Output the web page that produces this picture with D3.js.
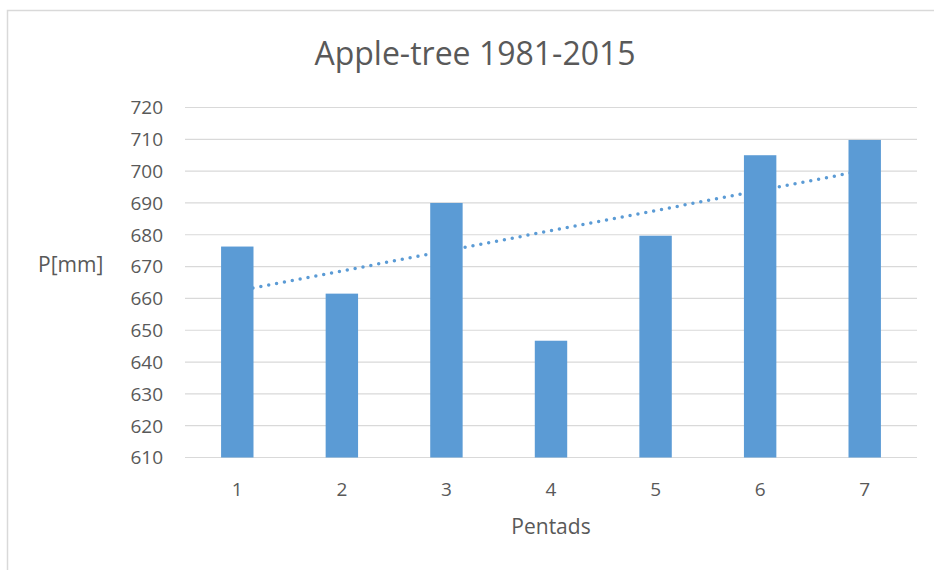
<!DOCTYPE html>
<html>
<head>
<meta charset="utf-8">
<script src="https://cdn.jsdelivr.net/npm/d3@7"></script>
<style>
  body { margin: 0; background: #fff; overflow: hidden; }
  svg { display: block; }
  text { font-family: "Open Sans", sans-serif; fill: #595959; }
</style>
</head>
<body>
<script>
const wid = 934, hei = 570;
const pentads = ['1', '2', '3', '4', '5', '6', '7'];
const precip = [676.3, 661.5, 690, 646.7, 679.7, 705, 709.8];
const yTicks = [610, 620, 630, 640, 650, 660, 670, 680, 690, 700, 710, 720];

const plotL = 185, plotR = 917, plotT = 107.5, plotB = 457.5;

let svg = d3.select('body').append('svg')
    .attr('width', wid)
    .attr('height', hei);

// chart frame
svg.append('rect')
    .attr('x', 7.5).attr('y', 10.5)
    .attr('width', 940).attr('height', 580)
    .attr('fill', '#fff')
    .attr('stroke', '#d9d9d9')
    .attr('stroke-width', 1.5);

let x = d3.scaleBand().domain(pentads).range([plotL, plotR]).paddingInner(0.69).paddingOuter(0.345);
let y = d3.scaleLinear().domain([610, 720]).range([plotB, plotT]);

// gridlines
svg.append('g').selectAll('line')
    .data(yTicks)
    .enter().append('line')
    .attr('x1', plotL).attr('x2', plotR)
    .attr('y1', d => y(d)).attr('y2', d => y(d))
    .attr('stroke', '#d9d9d9')
    .attr('stroke-width', 1.2);

// y tick labels
svg.append('g').selectAll('text')
    .data(yTicks)
    .enter().append('text')
    .attr('x', 163)
    .attr('y', d => y(d))
    .attr('dy', '0.36em')
    .attr('text-anchor', 'end')
    .style('font-size', '19px')
    .text(d => d);

// linear trendline (least squares over the bars)
let xs = pentads.map(Number);
let mx = d3.mean(xs), my = d3.mean(precip);
let slope = d3.sum(xs, (v, i) => (v - mx) * (precip[i] - my)) / d3.sum(xs, v => (v - mx) * (v - mx));
let icpt = my - slope * mx;
let cx = p => x(p) + x.bandwidth() / 2;

svg.append('line')
    .attr('x1', cx(pentads[0]))
    .attr('y1', y(icpt + slope * xs[0]))
    .attr('x2', cx(pentads[6]))
    .attr('y2', y(icpt + slope * xs[6]))
    .attr('stroke', '#5b9bd5')
    .attr('stroke-width', 3.5)
    .attr('stroke-linecap', 'round')
    .attr('stroke-dasharray', '0 8');

// bars
svg.append('g').selectAll('rect')
    .data(precip)
    .enter().append('rect')
    .attr('x', (d, i) => x(pentads[i]))
    .attr('y', d => y(d))
    .attr('width', x.bandwidth())
    .attr('height', d => plotB - y(d))
    .attr('fill', '#5b9bd5');

// x tick labels
svg.append('g').selectAll('text')
    .data(pentads)
    .enter().append('text')
    .attr('x', d => cx(d))
    .attr('y', 496)
    .attr('text-anchor', 'middle')
    .style('font-size', '19px')
    .text(d => d);

// titles
svg.append('text')
    .attr('x', 475).attr('y', 65)
    .attr('text-anchor', 'middle')
    .style('font-size', '32px')
    .text('Apple-tree 1981-2015');

svg.append('text')
    .attr('x', (plotL + plotR) / 2).attr('y', 534)
    .attr('text-anchor', 'middle')
    .style('font-size', '21px')
    .text('Pentads');

svg.append('text')
    .attr('x', 38).attr('y', 272)
    .style('font-size', '21px')
    .text('P[mm]');
</script>
</body>
</html>
